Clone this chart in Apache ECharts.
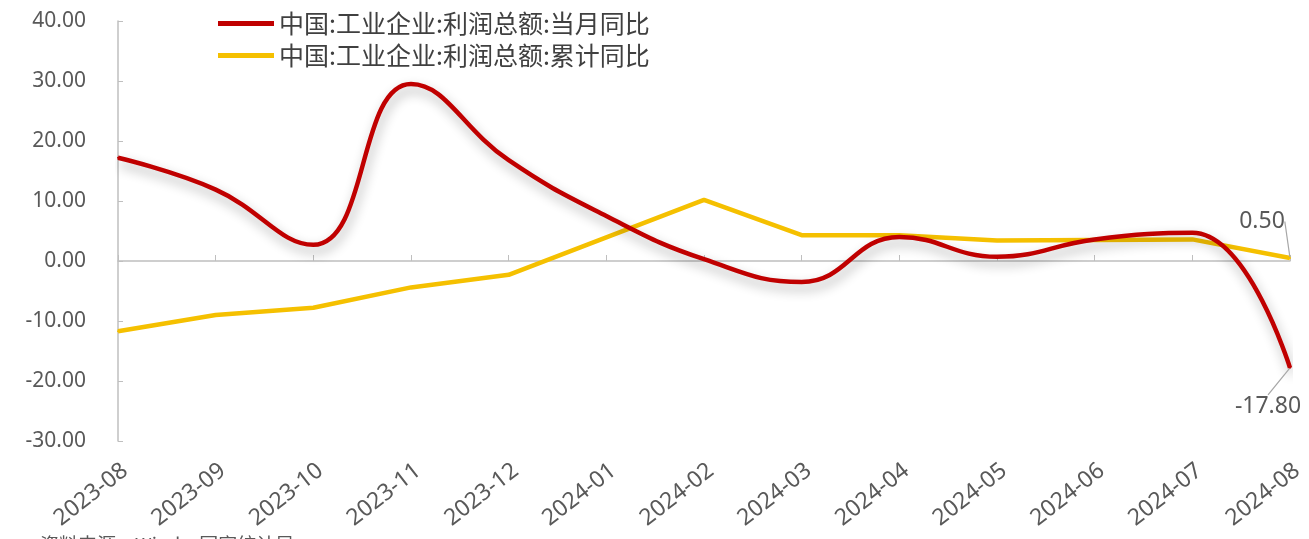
<!DOCTYPE html>
<html>
<head>
<meta charset="utf-8">
<script src="https://cdn.jsdelivr.net/npm/echarts@6/dist/echarts.min.js"></script>
<style>
html,body{margin:0;padding:0;background:#fff;}
#c{width:1309px;height:539px;}
</style>
</head>
<body>
<div id="c"></div>
<script>
const categories = ['2023-08','2023-09','2023-10','2023-11','2023-12','2024-01','2024-02','2024-03','2024-04','2024-05','2024-06','2024-07','2024-08'];
const monthlyYoY = [17.2, 11.9, 2.7, 29.5, 16.8, 7.5, 0.3, -3.5, 4.0, 0.7, 3.6, 4.7, -17.8];
const cumulativeYoY = [-11.7, -9.0, -7.8, -4.4, -2.3, null, 10.2, 4.3, 4.3, 3.4, 3.5, 3.6, 0.5];
const seriesNames = ['中国:工业企业:利润总额:当月同比', '中国:工业企业:利润总额:累计同比'];
const yTicks = {min: -30, max: 40, interval: 10};
const sourceNote = '资料来源：Wind，国家统计局';

const numFont = 'Noto Sans, Noto Sans CJK SC, sans-serif';
const cjkFont = 'Noto Sans CJK SC, Noto Sans, sans-serif';

function withEndLabel(arr, pos) {
  return arr.map((v, i) => {
    if (i !== arr.length - 1) return v;
    return {
      value: v,
      label: {
        show: true,
        position: pos,
        distance: 4,
        formatter: (p) => Number(p.value).toFixed(2),
        color: '#595959',
        fontSize: 23,
        fontFamily: numFont
      }
    };
  });
}

const chart = echarts.init(document.getElementById('c'), null, {renderer: 'canvas'});
chart.setOption({
  animation: false,
  backgroundColor: '#fff',
  grid: {left: 118, right: 19, top: 21, bottom: 98, containLabel: false},
  legend: {
    orient: 'vertical',
    left: 213,
    top: 6,
    itemWidth: 56,
    itemHeight: 5,
    itemGap: 7,
    icon: 'rect',
    textStyle: {color: '#404040', fontSize: 25, fontFamily: cjkFont},
    data: seriesNames
  },
  xAxis: [{
    type: 'category',
    data: categories,
    boundaryGap: false,
    axisLine: {onZero: true, lineStyle: {color: '#BFBFBF', width: 1.5}},
    axisTick: {show: true, inside: true, length: 6, lineStyle: {color: '#BFBFBF'}},
    axisLabel: {show: false},
    splitLine: {show: false}
  }, {
    type: 'category',
    data: categories,
    boundaryGap: false,
    position: 'bottom',
    axisLine: {show: false, onZero: false},
    axisTick: {show: false},
    axisLabel: {
      show: true, rotate: 38, margin: 18, interval: 0,
      align: 'right', verticalAlign: 'top',
      color: '#595959', fontSize: 23, fontFamily: numFont
    },
    splitLine: {show: false}
  }],
  yAxis: {
    type: 'value',
    min: yTicks.min, max: yTicks.max, interval: yTicks.interval,
    axisLine: {show: true, lineStyle: {color: '#BFBFBF', width: 1.5}},
    axisTick: {show: true, inside: true, length: 5, lineStyle: {color: '#BFBFBF'}},
    axisLabel: {
      margin: 32, color: '#595959', fontSize: 21, fontFamily: numFont,
      formatter: (v) => v.toFixed(2)
    },
    splitLine: {show: false}
  },
  series: [{
    name: seriesNames[0],
    type: 'line',
    xAxisIndex: 0,
    smooth: 0.45,
    symbol: 'circle',
    symbolSize: 2,
    showSymbol: true,
    itemStyle: {color: '#C00000'},
    data: withEndLabel(monthlyYoY, 'bottom'),
    color: '#C00000',
    lineStyle: {
      color: '#C00000', width: 4.5,
      shadowColor: 'rgba(0,0,0,0.32)', shadowBlur: 12, shadowOffsetX: 2, shadowOffsetY: 6
    },
    labelLine: {show: true, lineStyle: {color: '#A6A6A6', width: 1.2}},
    labelLayout: function (p) { return {dx: -22, dy: 22}; },
    z: 3
  }, {
    name: seriesNames[1],
    type: 'line',
    xAxisIndex: 0,
    smooth: false,
    connectNulls: true,
    symbol: 'circle',
    symbolSize: 2,
    showSymbol: true,
    itemStyle: {color: '#F5C000'},
    data: withEndLabel(cumulativeYoY, 'top'),
    color: '#F5C000',
    lineStyle: {color: '#F5C000', width: 4.5},
    labelLine: {show: true, lineStyle: {color: '#A6A6A6', width: 1.2}},
    labelLayout: function (p) { return {dx: -28, dy: -20}; },
    z: 2
  }],
  graphic: [{
    type: 'text',
    left: 40,
    top: 535,
    style: {text: sourceNote, fill: '#595959', fontSize: 19, fontFamily: cjkFont}
  }]
});
</script>
</body>
</html>
